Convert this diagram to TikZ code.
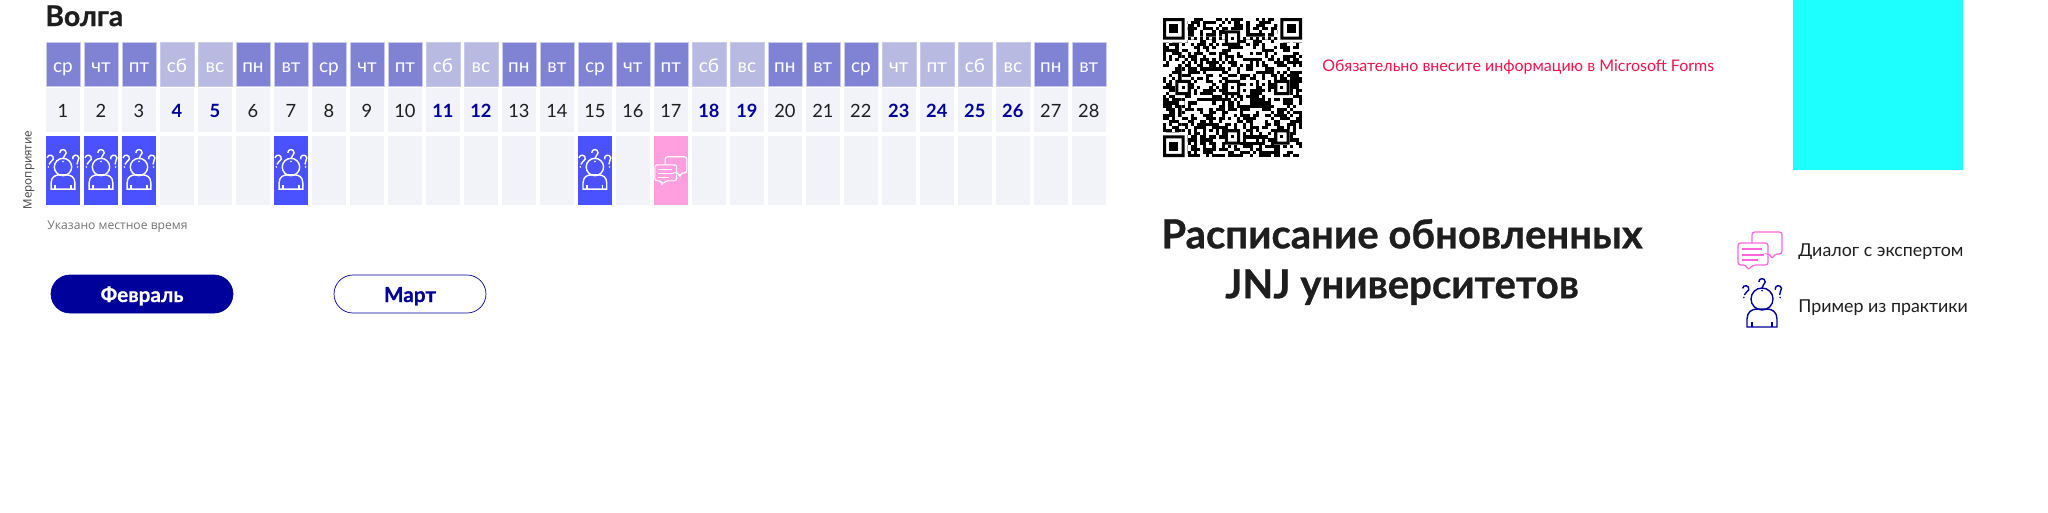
\documentclass[tikz,border=0pt]{standalone}
\usepackage{fontspec}
\setmainfont{Lato}
\newfontfamily\notefont{Open Sans}
\newfontfamily\heavyfont[BoldFeatures={FakeBold=.7}]{Lato}
\usetikzlibrary{positioning}
\definecolor{headblue}{HTML}{8083D4}
\definecolor{headoff}{HTML}{B9BAE2}
\definecolor{headline}{HTML}{C9CAEE}
\definecolor{cellgray}{HTML}{F2F2F9}
\definecolor{caseblue}{HTML}{4A52FF}
\definecolor{talkpink}{HTML}{FF9FDF}
\definecolor{iconpink}{HTML}{FF66DD}
\definecolor{navy}{HTML}{00009A}
\definecolor{ink}{HTML}{1E1E1E}
\definecolor{alertred}{HTML}{F0134D}
\definecolor{aqua}{HTML}{1DFFFF}
\tikzset{
  dayhead/.style={
    draw=headline,
    line width=.3pt,
    fill=headblue,
    text=white,
    inner sep=0pt,
    outer sep=0pt,
    minimum width=.68cm,
    minimum height=.88cm,
    text height=.32cm,
    text depth=0pt,
    font=\fontsize{10.8}{13}\selectfont
  },
  dayoff/.style={dayhead,fill=headoff},
  daydate/.style={
    fill=cellgray,
    text=ink,
    inner sep=0pt,
    outer sep=0pt,
    minimum width=.68cm,
    minimum height=.88cm,
    text height=.28cm,
    text depth=0pt,
    font=\fontsize{10.4}{13}\selectfont
  },
  dateoff/.style={daydate,text=navy,font=\fontsize{10.4}{13}\selectfont\bfseries},
  slot/.style={
    fill=cellgray,
    inner sep=0pt,
    outer sep=0pt,
    minimum width=.68cm,
    minimum height=1.38cm
  },
  monthbtn/.style={
    rounded corners=.38cm,
    draw=navy,
    line width=.4pt,
    inner sep=0pt,
    minimum height=.76cm,
    text height=.32cm,
    text depth=0pt,
    text=navy,
    font=\heavyfont\fontsize{11.8}{13}\selectfont\bfseries
  },
  legendtext/.style={
    anchor=base west,
    inner sep=0pt,
    text=ink,
    font=\fontsize{10.15}{13}\selectfont
  },
  qmark/.pic={
    \draw (-3.2,-3) .. controls (-3.2,-7.5) and (3.2,-7.5) .. (3.2,-3)
      .. controls (3.2,-.5) and (0,-.5) .. (0,3);
    \fill (0,5.6) circle (.9);
  },
  askme/.pic={
    \draw (0,0) circle (11);
    \draw (-15,28) -- (-15,20) .. controls (-15,13) and (-10,10) .. (-5,10) -- (5,10)
      .. controls (10,10) and (15,13) .. (15,20) -- (15,28) -- cycle;
    \draw (-10,23) -- (-10,28) (10,23) -- (10,28);
    \pic at (0,-14) {qmark};
    \pic[rotate=-12] at (-17,-7) {qmark};
    \pic[rotate=12] at (17,-7) {qmark};
  },
  expert/.pic={
    \draw[rounded corners=1.5pt] (-8,-3) -- (-8,-14) -- (22,-14) -- (22,8) -- (15,8) -- (12,13) -- (10,8) -- (8,8);
    \draw[rounded corners=1.5pt] (-22,-3) -- (8,-3) -- (8,19) -- (-7,19) -- (-12,24) -- (-14,19) -- (-22,19) -- cycle;
    \draw (-18,3) -- (2,3) (-18,9) -- (4,9) (-18,14) -- (-2,14);
  }
}
\begin{document}
\begin{tikzpicture}[x=.02cm,y=-.02cm,node distance=.04cm and .08cm]
\useasboundingbox[fill=white] (0,0) rectangle (2048,512);
\node[anchor=base west,inner sep=0pt,text=ink,font=\heavyfont\fontsize{16.2}{18}\selectfont\bfseries] (region) at (45,26) {Волга};
\coordinate (h0) at (42,64);
\foreach \d/\dname/\look/\dface in {
  1/ср/dayhead/daydate,2/чт/dayhead/daydate,3/пт/dayhead/daydate,
  4/сб/dayoff/dateoff,5/вс/dayoff/dateoff,6/пн/dayhead/daydate,
  7/вт/dayhead/daydate,8/ср/dayhead/daydate,9/чт/dayhead/daydate,
  10/пт/dayhead/daydate,11/сб/dayoff/dateoff,12/вс/dayoff/dateoff,
  13/пн/dayhead/daydate,14/вт/dayhead/daydate,15/ср/dayhead/daydate,
  16/чт/dayhead/daydate,17/пт/dayhead/daydate,18/сб/dayoff/dateoff,
  19/вс/dayoff/dateoff,20/пн/dayhead/daydate,21/вт/dayhead/daydate,
  22/ср/dayhead/daydate,23/чт/dayoff/dateoff,24/пт/dayoff/dateoff,
  25/сб/dayoff/dateoff,26/вс/dayoff/dateoff,27/пн/dayhead/daydate,
  28/вт/dayhead/daydate}{
  \pgfmathtruncatemacro{\prev}{\d-1}
  \node[\look,right=of h\prev] (h\d) {\dname};
  \node[\dface,below=of h\d] (d\d) {\d};
  \node[slot,below=.08cm of d\d] (e\d) {};
}
\foreach \d in {1,2,3,7,15}{
  \fill[caseblue] (e\d.north west) rectangle (e\d.south east);
  \path (e\d.center) ++(0,-3.5) pic[white,scale=.79,line width=.8pt] {askme};
}
\fill[talkpink] (e17.north west) rectangle (e17.south east);
\path (e17.center) ++(0,-3.5) pic[white,scale=.73,line width=.6pt] {expert};
\node[rotate=90,inner sep=0pt,text=ink!85,font=\notefont\fontsize{6.6}{8}\selectfont] (event) at (29,170) {Мероприятие};
\node[anchor=base west,inner sep=0pt,text=black!55,font=\notefont\fontsize{6.9}{8}\selectfont] (note) at (47,229) {Указано местное время};
\node[monthbtn,fill=navy,text=white,minimum width=3.64cm] (feb) at (142,294) {Февраль};
\node[monthbtn,minimum width=3.04cm] (mar) at (410,294) {Март};
% qr
\begin{scope}[shift={(1163,18)},x=.0618cm,y=-.0618cm]
  \pgfmathsetseed{2718}
  \foreach \i in {0,...,44}{
    \foreach \j in {0,...,44}{
      \pgfmathrandominteger{\bit}{0}{99}
      \ifnum\bit<52
        \fill[black] (\i,\j) rectangle ++(1.02,1.02);
      \fi
    }
  }
  \fill[white] (0,0) rectangle (8,8) (37,0) rectangle (45,8) (0,37) rectangle (8,45);
  \fill[white] (8,6) rectangle (37,7) (6,8) rectangle (7,37);
  \foreach \i in {8,10,...,36}{
    \fill[black] (\i,6) rectangle ++(1,1);
    \fill[black] (6,\i) rectangle ++(1,1);
  }
  \foreach \i/\j in {0/0,38/0,0/38}{
    \fill[black,even odd rule] (\i,\j) rectangle ++(7,7) (\i+1,\j+1) rectangle ++(5,5);
    \fill[black] (\i+2,\j+2) rectangle ++(3,3);
  }
  \foreach \i/\j in {6/22,22/6,22/22,22/38,38/22,38/38}{
    \fill[white] (\i-2,\j-2) rectangle ++(5,5);
    \fill[black,even odd rule] (\i-2,\j-2) rectangle ++(5,5) (\i-1,\j-1) rectangle ++(3,3);
    \fill[black] (\i,\j) rectangle ++(1,1);
  }
\end{scope}
\node[anchor=base west,inner sep=0pt,text=alertred,font=\fontsize{9.1}{11}\selectfont] (alert) at (1322,71) {Обязательно внесите информацию в Microsoft Forms};
\fill[aqua] (1793,0) rectangle (1963,170);
\node[align=center,inner sep=0pt,text=ink,font=\heavyfont\fontsize{22.8}{28.4}\selectfont\bfseries] (heading) at (1402,262) {Расписание обновленных\\JNJ университетов};
\path (1760,246) pic[iconpink,line width=.7pt] {expert};
\path (1762,299) pic[navy,line width=.8pt] {askme};
\node[legendtext] (talk) at (1798,256) {Диалог с экспертом};
\node[legendtext] (case) at (1798,312) {Пример из практики};
\end{tikzpicture}
\end{document}
